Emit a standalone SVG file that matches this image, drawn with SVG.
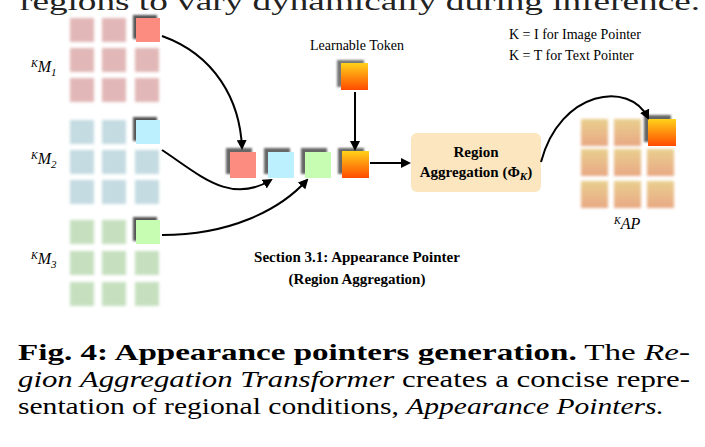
<svg xmlns="http://www.w3.org/2000/svg" width="705" height="447" viewBox="0 0 705 447">
<style>
.s{font-family:"Liberation Serif","Times New Roman",serif}
.ml{font-family:"Liberation Serif",serif;font-size:16px;font-style:italic}
.ed{fill:none;stroke:#000;stroke-width:2}
.cap{font-family:"Liberation Serif","DejaVu Serif",serif;font-size:23px}
</style>
<defs>
<filter id="b" x="-30%" y="-30%" width="160%" height="160%"><feGaussianBlur stdDeviation="1.5"/></filter>
<filter id="sh" x="-30%" y="-30%" width="160%" height="160%"><feGaussianBlur stdDeviation="1.2"/></filter>
<linearGradient id="g" x1="0" y1="0" x2="0" y2="1"><stop offset="0" stop-color="#ffd21a"/><stop offset="1" stop-color="#ff4a00"/></linearGradient>
<linearGradient id="ga" x1="0" y1="0" x2="0" y2="1"><stop offset="0" stop-color="#e9cf8e"/><stop offset="1" stop-color="#e8a884"/></linearGradient>
<marker id="ar" markerWidth="10" markerHeight="10" refX="8" refY="5" orient="auto" markerUnits="userSpaceOnUse"><path d="M0,0 L10,5 L0,10 Z" fill="#000"/></marker>
</defs>
<rect width="705" height="447" fill="#fff"/>
<text class="s" x="20" y="10" font-size="26" fill="#222" textLength="680" lengthAdjust="spacingAndGlyphs">regions to vary dynamically during inference.</text>

<g id="M1">
<g filter="url(#b)" fill="#e2b7b7">
<rect x="70" y="18" width="24" height="24"/><rect x="102" y="18" width="24" height="24"/>
<rect x="70" y="48" width="24" height="24"/><rect x="102" y="48" width="24" height="24"/><rect x="135" y="48" width="24" height="24"/>
<rect x="70" y="78" width="24" height="24"/><rect x="102" y="78" width="24" height="24"/><rect x="135" y="78" width="24" height="24"/>
</g>
<rect x="133" y="15" width="24" height="24" fill="#555" filter="url(#sh)"/>
<rect x="136" y="18" width="24" height="24" fill="#fd8c80"/>
<text class="ml" x="31" y="72"><tspan font-size="10" dy="-5">K</tspan><tspan dy="5">M</tspan><tspan font-size="11" dy="4">1</tspan></text>
</g>
<g id="M2">
<g filter="url(#b)" fill="#c4dbe2">
<rect x="70" y="120" width="24" height="24"/><rect x="102" y="120" width="24" height="24"/>
<rect x="70" y="150" width="24" height="24"/><rect x="102" y="150" width="24" height="24"/><rect x="135" y="150" width="24" height="24"/>
<rect x="70" y="180" width="24" height="24"/><rect x="102" y="180" width="24" height="24"/><rect x="135" y="180" width="24" height="24"/>
</g>
<rect x="133" y="117" width="24" height="24" fill="#555" filter="url(#sh)"/>
<rect x="136" y="120" width="24" height="24" fill="#bdf0ff"/>
<text class="ml" x="31" y="164"><tspan font-size="10" dy="-5">K</tspan><tspan dy="5">M</tspan><tspan font-size="11" dy="4">2</tspan></text>
</g>
<g id="M3">
<g filter="url(#b)" fill="#c6e0bf">
<rect x="70" y="220" width="24" height="24"/><rect x="102" y="220" width="24" height="24"/>
<rect x="70" y="251" width="24" height="24"/><rect x="102" y="251" width="24" height="24"/><rect x="135" y="251" width="24" height="24"/>
<rect x="70" y="282" width="24" height="24"/><rect x="102" y="282" width="24" height="24"/><rect x="135" y="282" width="24" height="24"/>
</g>
<rect x="133" y="217" width="24" height="24" fill="#555" filter="url(#sh)"/>
<rect x="136" y="220" width="24" height="24" fill="#c6fdb3"/>
<text class="ml" x="31" y="264"><tspan font-size="10" dy="-5">K</tspan><tspan dy="5">M</tspan><tspan font-size="11" dy="4">3</tspan></text>
</g>

<g id="seq">
<g fill="#666" filter="url(#sh)">
<rect x="226" y="148" width="26" height="26"/><rect x="264" y="148" width="26" height="26"/><rect x="301" y="148" width="26" height="26"/><rect x="338" y="148" width="26" height="26"/>
</g>
<rect x="230" y="152" width="26" height="26" fill="#fd8c80"/>
<rect x="268" y="152" width="26" height="26" fill="#bdf0ff"/>
<rect x="305" y="152" width="26" height="26" fill="#c6fdb3"/>
<rect x="342" y="151" width="27" height="27" fill="url(#g)"/>
</g>
<g id="token">
<text class="s" x="357" y="50" font-size="14" text-anchor="middle">Learnable Token</text>
<rect x="337" y="60" width="27" height="27" fill="#777" filter="url(#sh)"/>
<rect x="341" y="63" width="27" height="27" fill="url(#g)"/>
</g>
<g id="agg">
<rect x="411" y="133" width="130" height="59" rx="6" fill="#fce6bf"/>
<text class="s" x="476" y="157" font-size="15" font-weight="bold" text-anchor="middle">Region</text>
<text class="s" x="476" y="177" font-size="15" font-weight="bold" text-anchor="middle">Aggregation (Φ<tspan font-style="italic" font-size="11" dy="3">K</tspan><tspan dy="-3">)</tspan></text>
</g>
<g id="AP">
<g filter="url(#b)" fill="url(#ga)">
<rect x="581" y="119" width="27" height="27"/><rect x="614" y="119" width="27" height="27"/>
<rect x="581" y="149" width="27" height="27"/><rect x="614" y="149" width="27" height="27"/><rect x="647" y="149" width="27" height="27"/>
<rect x="581" y="181" width="27" height="27"/><rect x="614" y="181" width="27" height="27"/><rect x="647" y="181" width="27" height="27"/>
</g>
<rect x="644" y="115" width="27" height="27" fill="#666" filter="url(#sh)"/>
<rect x="648" y="119" width="28" height="27" fill="url(#g)"/>
<text class="ml" x="614" y="229"><tspan font-size="10" dy="-5">K</tspan><tspan dy="5">AP</tspan></text>
</g>
<g id="notes" class="s" font-size="14">
<text x="509" y="39">K = I for Image Pointer</text>
<text x="509" y="60">K = T for Text Pointer</text>
</g>
<g id="section" class="s" font-size="15" font-weight="bold" text-anchor="middle">
<text x="357" y="262">Section 3.1: Appearance Pointer</text>
<text x="357" y="284">(Region Aggregation)</text>
</g>
<g id="connectors">
<path class="ed" d="M162,36 C215,55 240,100 242,148" marker-end="url(#ar)"/>
<path class="ed" d="M162,150 C200,175 230,205 271,180" marker-end="url(#ar)"/>
<path class="ed" d="M162,235 C230,235 280,210 307,180" marker-end="url(#ar)"/>
<path class="ed" d="M355,92 L355,149" marker-end="url(#ar)"/>
<path class="ed" d="M370,163 L409,163" marker-end="url(#ar)"/>
<path class="ed" d="M541,162 C560,90 630,80 648,118" marker-end="url(#ar)"/>
</g>
<g id="caption" class="cap">
<text x="18" y="360" textLength="672" lengthAdjust="spacingAndGlyphs"><tspan font-weight="bold">Fig. 4: Appearance pointers generation.</tspan> The <tspan font-style="italic">Re-</tspan></text>
<text x="18" y="387" textLength="672" lengthAdjust="spacingAndGlyphs"><tspan font-style="italic">gion Aggregation Transformer</tspan> creates a concise repre-</text>
<text x="18" y="414" textLength="646" lengthAdjust="spacingAndGlyphs">sentation of regional conditions, <tspan font-style="italic">Appearance Pointers.</tspan></text>
</g>
</svg>
